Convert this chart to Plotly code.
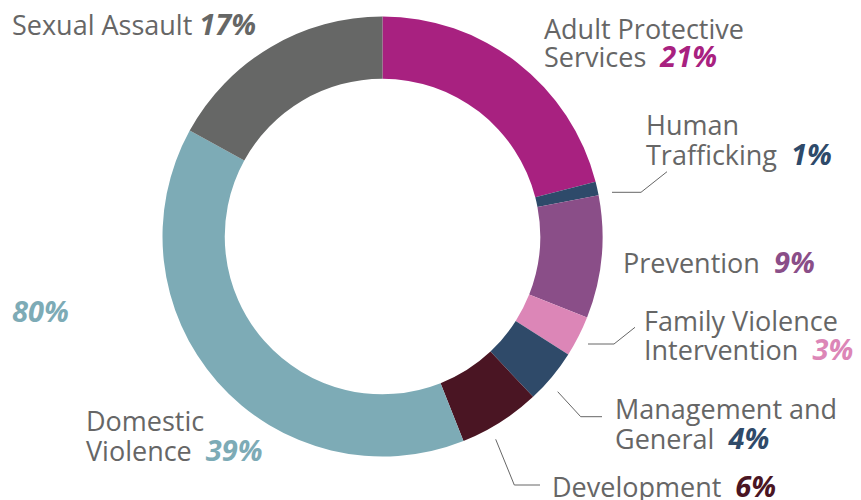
import plotly.graph_objects as go

# ---- data ----
categories = ["Adult Protective Services", "Human Trafficking", "Prevention",
              "Family Violence Intervention", "Management and General",
              "Development", "Domestic Violence", "Sexual Assault"]
values = [21, 1, 9, 3, 4, 6, 39, 17]
colors = ["#A82180", "#2E4A6A", "#8A4E88", "#DC86B7", "#2F4A69",
          "#4A1523", "#7DABB6", "#666766"]
label_lines = [["Adult Protective", "Services"], ["Human", "Trafficking"],
               ["Prevention"], ["Family Violence", "Intervention"],
               ["Management and", "General"], ["Development"],
               ["Domestic", "Violence"], ["Sexual Assault"]]
side_total = 80
side_total_color = "#7DABB6"

W, H = 861, 500
FONT = "Open Sans"
GREY = "#666666"
FS = 27
PFS = 29

def px(x):
    return x / W

def py(y):
    return 1 - y / H

fig = go.Figure(go.Pie(
    labels=categories, values=values, sort=False, direction="clockwise",
    rotation=0, hole=0.717, textinfo="none", hoverinfo="label+percent",
    marker=dict(colors=colors, line=dict(width=0)),
    domain=dict(x=[px(162.5), px(602.5)], y=[py(456.5), py(16.5)]),
    showlegend=False,
))

# label layout: (left x, center y for each line, gap before pct)
label_pos = [
    (543, [28, 56], "\u00a0\u00a0"),
    (645, [124, 153], "\u00a0\u00a0"),
    (622, [261], "\u00a0\u00a0"),
    (643, [320, 348], "\u00a0\u00a0"),
    (614, [408, 437], "\u00a0\u00a0"),
    (551, [485], "\u00a0\u00a0"),
    (85, [420, 449], "\u00a0\u00a0"),
    (11, [23], "\u00a0"),
]

annotations = []
for lines, v, c, (lx, ys, gap) in zip(label_lines, values, colors, label_pos):
    for i, (line, yc) in enumerate(zip(lines, ys)):
        txt = line
        if i == len(lines) - 1:
            txt = (f"{line}{gap}<b><i><span style='color:{c};font-size:{PFS}px'>"
                   f"{v}%</span></i></b>")
        annotations.append(dict(
            x=px(lx), y=py(yc), xref="paper", yref="paper",
            xanchor="left", yanchor="middle", showarrow=False,
            borderpad=0, text=txt,
            font=dict(family=FONT, size=FS, color=GREY),
        ))

annotations.append(dict(
    x=px(11), y=py(310), xref="paper", yref="paper", xanchor="left",
    yanchor="middle", showarrow=False, borderpad=0,
    text=f"<b><i>{side_total}%</i></b>",
    font=dict(family=FONT, size=PFS, color=side_total_color),
))

# leader lines (pixel paths)
leaders = [
    [(612, 192.3), (641, 192.3), (667, 171.7)],
    [(588, 344), (614, 344), (635, 327.3)],
    [(557.7, 391.7), (580.7, 416.7), (602, 416.7)],
    [(495.7, 439.3), (514.3, 485), (540, 485)],
]
shapes = []
for pts in leaders:
    path = "M " + " L ".join(f"{px(x)},{py(y)}" for x, y in pts)
    shapes.append(dict(type="path", xref="paper", yref="paper", path=path,
                       line=dict(color=GREY, width=1)))

fig.update_layout(
    width=W, height=H, margin=dict(l=0, r=0, t=0, b=0),
    paper_bgcolor="white", plot_bgcolor="white",
    annotations=annotations, shapes=shapes,
    font=dict(family=FONT),
)

fig.write_html("out.html", config={"displayModeBar": False},
               post_script="document.body.style.margin='0';")
